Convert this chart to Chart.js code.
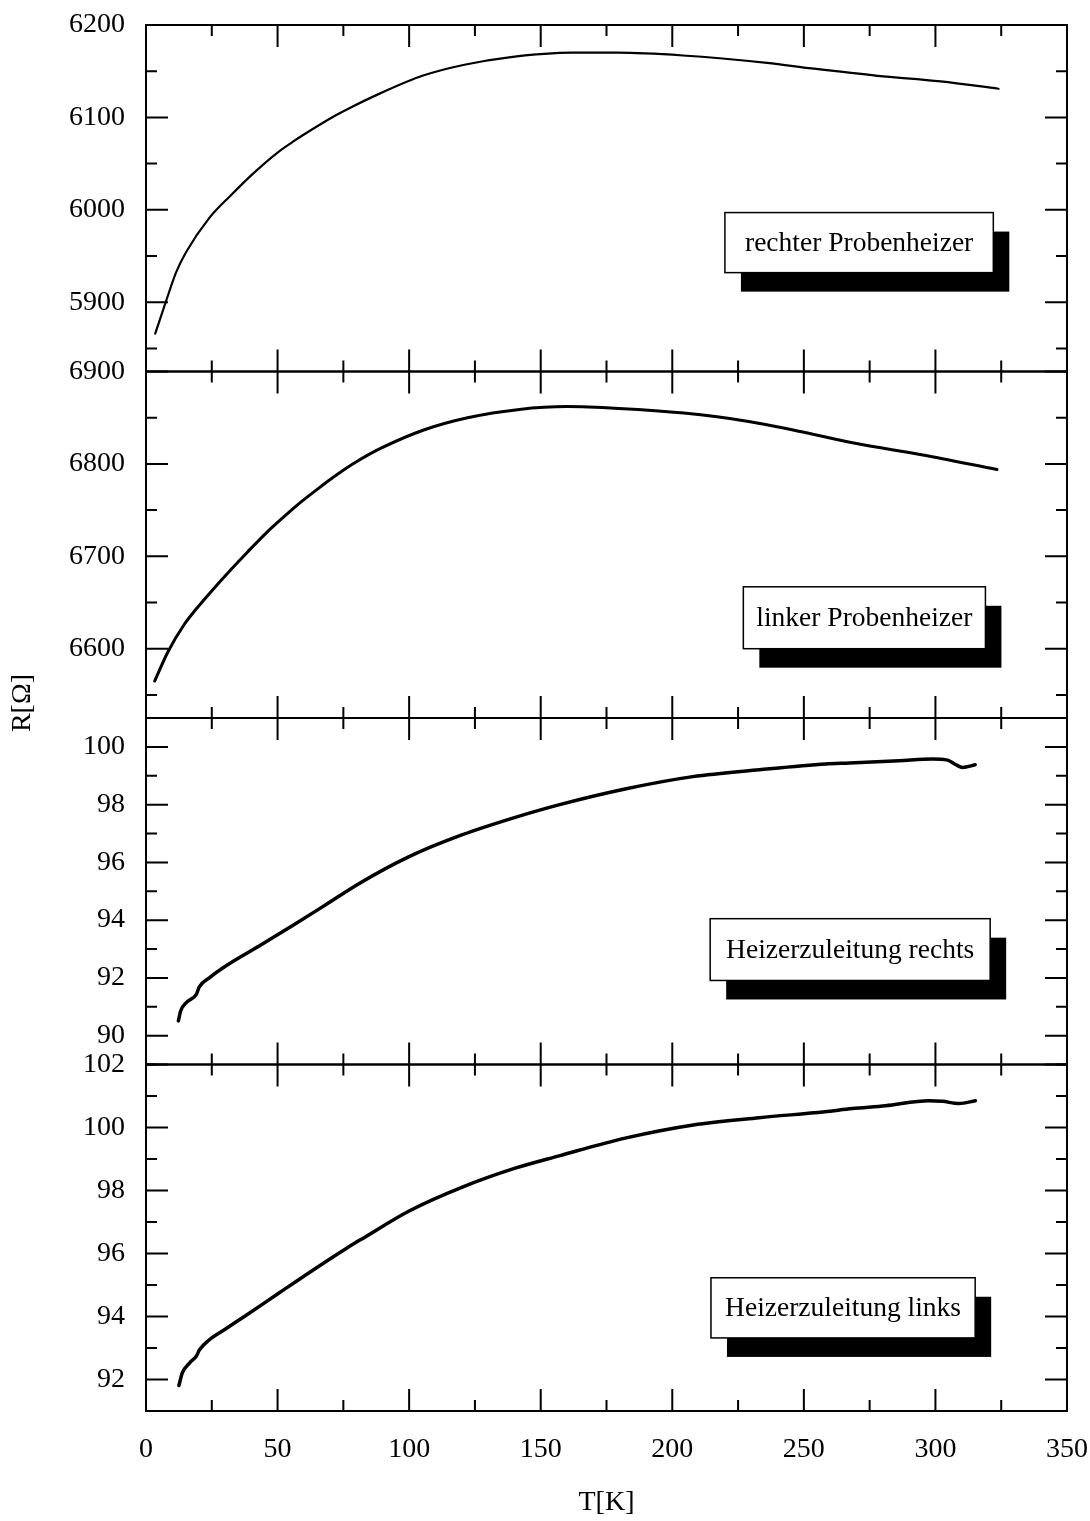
<!DOCTYPE html>
<html>
<head>
<meta charset="utf-8">
<script src="https://cdn.jsdelivr.net/npm/chart.js@4/dist/chart.umd.min.js"></script>
<style>
  html, body { margin: 0; padding: 0; background: #fff; }
  #chart { display: block; }
</style>
</head>
<body>
<canvas id="chart" width="1090" height="1521"></canvas>
<script>
const FONT = '"Liberation Serif", "DejaVu Serif", "Times New Roman", serif';

// temperature axis labels [K]
const tempTicks = [0, 50, 100, 150, 200, 250, 300, 350];

// rechter Probenheizer
const tRechterProbe = [3.5, 7.6, 11.4, 15.2, 24, 32, 41, 50, 56, 66, 72, 78, 89, 105, 121, 138, 162, 179, 204, 236, 253, 278, 302, 324];
const rRechterProbe = [5866, 5901, 5932, 5954, 5991, 6015, 6040, 6062, 6074, 6092, 6102, 6111, 6126, 6145, 6157, 6165, 6170, 6170, 6167, 6159, 6153, 6145, 6139, 6131];
const rechterProbeTicks = [5900, 6000, 6100, 6200];

// linker Probenheizer
const tLinkerProbe = [3.3, 8.4, 14.7, 18.5, 24.8, 32.4, 38.7, 46.3, 50.1, 57.7, 65.3, 72.9, 79.8, 89.3, 105.8, 122.2, 141.9, 160, 179.7, 204.4, 229, 245.5, 270, 294.7, 323.4];
const rLinkerProbe = [6565, 6597, 6627, 6641, 6662, 6686, 6705, 6727, 6737, 6756, 6773, 6789, 6802, 6817, 6837, 6850, 6859, 6862, 6860, 6855, 6846, 6837, 6822, 6810, 6794];
const linkerProbeTicks = [6600, 6700, 6800, 6900];

// Heizerzuleitung rechts
const tZuleitungRechts = [12.3, 13.2, 15.4, 19.2, 20.2, 24.3, 30.6, 43.3, 55.9, 68.6, 81.2, 100, 120, 140, 157.2, 182.5, 207.8, 233.1, 258.4, 267.3, 286.2, 298.9, 304.6, 307.8, 310.3, 315.1];
const rZuleitungRechts = [90.51, 90.86, 91.15, 91.44, 91.68, 92.02, 92.43, 93.12, 93.82, 94.55, 95.28, 96.2, 96.95, 97.55, 98.0, 98.55, 98.97, 99.21, 99.41, 99.44, 99.52, 99.58, 99.54, 99.38, 99.29, 99.38];
const zuleitungRechtsTicks = [90, 92, 94, 96, 98, 100];

// Heizerzuleitung links
const tZuleitungLinks = [12.5, 13.8, 16.6, 19.1, 20.4, 24.2, 30.5, 38.1, 50.8, 63.4, 76.1, 82.4, 100, 120, 140, 157, 182.5, 208, 233, 258, 268.4, 281, 297.5, 302.6, 308.9, 315.2];
const rZuleitungLinks = [91.81, 92.21, 92.53, 92.74, 92.95, 93.27, 93.62, 94.04, 94.76, 95.47, 96.16, 96.48, 97.35, 98.1, 98.7, 99.1, 99.67, 100.08, 100.31, 100.5, 100.6, 100.69, 100.85, 100.83, 100.76, 100.85];
const zuleitungLinksTicks = [92, 94, 96, 98, 100, 102];

// panels from top to bottom; box = label box corners [t0, t1, R0, R1] in axis units
const panels = [
  { id: 'y1', label: 'rechter Probenheizer', t: tRechterProbe, r: rRechterProbe, ticks: rechterProbeTicks,
    min: 5825, max: 6200, minor: 50, lineWidth: 2.2, box: [220, 322, 5997, 5932] },
  { id: 'y2', label: 'linker Probenheizer', t: tLinkerProbe, r: rLinkerProbe, ticks: linkerProbeTicks,
    min: 6525, max: 6900, minor: 50, lineWidth: 3, box: [227, 319, 6667, 6600] },
  { id: 'y3', label: 'Heizerzuleitung rechts', t: tZuleitungRechts, r: rZuleitungRechts, ticks: zuleitungRechtsTicks,
    min: 89, max: 101, minor: 1, lineWidth: 3.5, box: [214.4, 320.8, 94.05, 91.91] },
  { id: 'y4', label: 'Heizerzuleitung links', t: tZuleitungLinks, r: rZuleitungLinks, ticks: zuleitungLinksTicks,
    min: 91, max: 102, minor: 1, lineWidth: 3.5, box: [214.7, 315.1, 95.23, 93.32] }
];

const tickFont = { family: FONT, size: 28 };

// scale paddings are zeroed so layout.padding alone places the plot area
const noOverflow = s => { s.paddingTop = 0; s.paddingBottom = 0; s.paddingLeft = 0; s.paddingRight = 0; };

const scales = {
  x: {
    type: 'linear', min: 0, max: 350,
    grid: { display: false }, border: { display: false },
    afterBuildTicks: s => { s.ticks = tempTicks.map(v => ({ value: v })); },
    ticks: { font: tickFont, color: '#000', padding: 14, maxRotation: 0, autoSkip: false, callback: v => String(v) },
    title: { display: true, text: 'T[K]', font: tickFont, color: '#000', padding: { top: 0, bottom: 2 } },
    afterFit: s => { s.height = 110; noOverflow(s); }
  }
};

panels.forEach((p, i) => {
  scales[p.id] = {
    type: 'linear', position: 'left', stack: 'resistance', stackWeight: 1, weight: panels.length - i,
    min: p.min, max: p.max,
    grid: { display: false }, border: { display: false },
    afterBuildTicks: s => { s.ticks = p.ticks.map(v => ({ value: v })); },
    ticks: { font: tickFont, color: '#000', padding: 13, autoSkip: false, callback: v => String(v) },
    afterFit: s => { s.width = 146; noOverflow(s); }
  };
});

// frames with inward ticks, label boxes and the shared R axis title
const panelFrame = {
  id: 'panelFrame',
  afterDatasetsDraw(chart) {
    const { ctx, chartArea } = chart;
    const { left, right } = chartArea;
    const xs = chart.scales.x;
    ctx.save();
    ctx.strokeStyle = '#000';
    ctx.lineCap = 'butt';

    panels.forEach(p => {
      const ys = chart.scales[p.id];
      const top = ys.top, bottom = ys.bottom;
      ctx.lineWidth = 2;
      ctx.strokeRect(left, top, right - left, bottom - top);
      ctx.beginPath();
      for (let t = xs.min; t <= xs.max; t += 25) {
        const px = xs.getPixelForValue(t);
        const len = tempTicks.includes(t) ? 22 : 11;
        ctx.moveTo(px, top); ctx.lineTo(px, top + len);
        ctx.moveTo(px, bottom); ctx.lineTo(px, bottom - len);
      }
      for (let v = Math.ceil(p.min / p.minor) * p.minor; v <= p.max; v += p.minor) {
        const py = ys.getPixelForValue(v);
        const len = p.ticks.includes(v) ? 22 : 11;
        ctx.moveTo(left, py); ctx.lineTo(left + len, py);
        ctx.moveTo(right, py); ctx.lineTo(right - len, py);
      }
      ctx.stroke();

      // label box with drop shadow
      const [t0, t1, v0, v1] = p.box;
      const bx = xs.getPixelForValue(t0), bw = xs.getPixelForValue(t1) - bx;
      const by = ys.getPixelForValue(v0), bh = ys.getPixelForValue(v1) - by;
      ctx.fillStyle = '#000';
      ctx.fillRect(bx + 16, by + 19, bw, bh);
      ctx.fillStyle = '#fff';
      ctx.fillRect(bx, by, bw, bh);
      ctx.lineWidth = 1.5;
      ctx.strokeRect(bx, by, bw, bh);
      ctx.fillStyle = '#000';
      ctx.font = `27.5px ${FONT}`;
      ctx.textAlign = 'center';
      ctx.textBaseline = 'middle';
      ctx.fillText(p.label, bx + bw / 2, by + bh / 2 + 1);
    });

    ctx.translate(23, 703);
    ctx.rotate(-Math.PI / 2);
    ctx.fillStyle = '#000';
    ctx.font = `28px ${FONT}`;
    ctx.textAlign = 'center';
    ctx.textBaseline = 'middle';
    ctx.fillText('R[Ω]', 0, 0);
    ctx.restore();
  }
};

new Chart(document.getElementById('chart'), {
  type: 'line',
  data: {
    datasets: panels.map(p => ({
      label: p.label,
      yAxisID: p.id,
      data: p.t.map((t, i) => ({ x: t, y: p.r[i] })),
      borderColor: '#000',
      borderWidth: p.lineWidth,
      pointRadius: 0,
      fill: false,
      cubicInterpolationMode: 'monotone',
      borderCapStyle: 'round',
      borderJoinStyle: 'round'
    }))
  },
  options: {
    responsive: false,
    animation: false,
    devicePixelRatio: 1,
    layout: { padding: { top: 25, right: 23, bottom: 0, left: 0 } },
    scales,
    plugins: { legend: { display: false }, tooltip: { enabled: false } }
  },
  plugins: [panelFrame]
});
</script>
</body>
</html>
